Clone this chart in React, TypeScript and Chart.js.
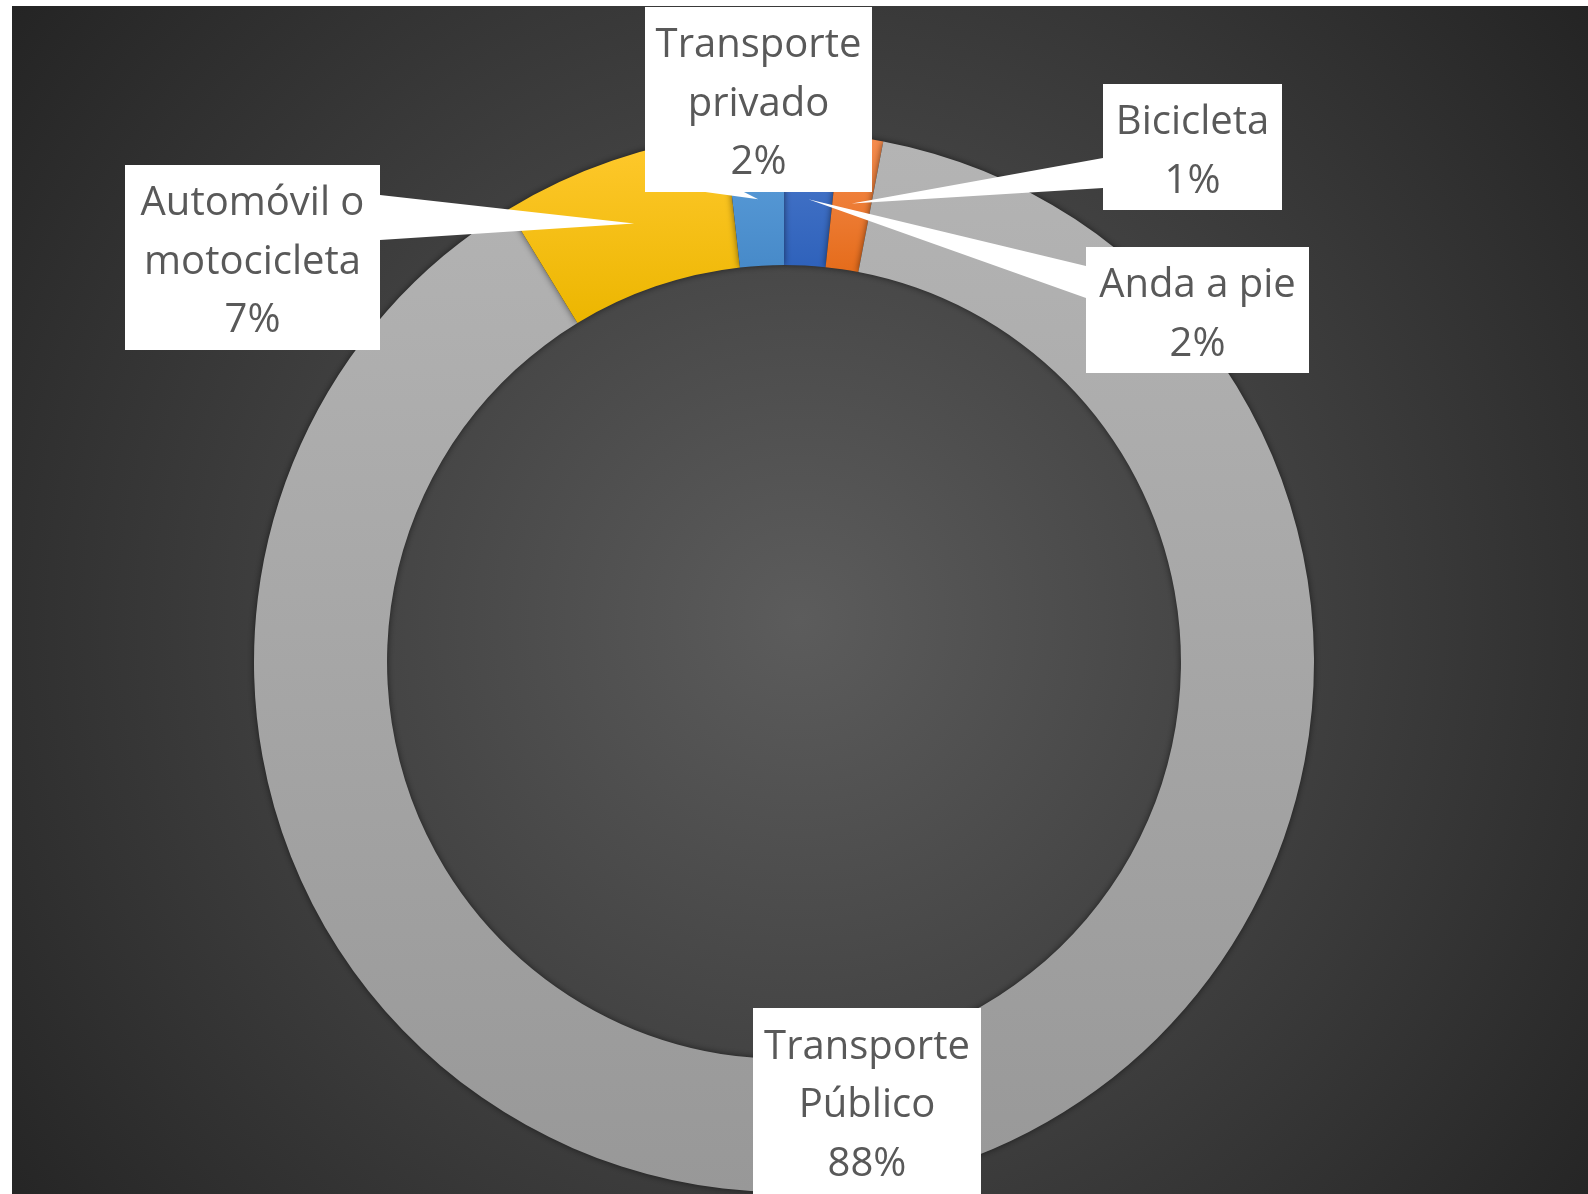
import React, { useEffect, useRef } from "react";
import { Chart, registerables } from "chart.js";

Chart.register(...registerables);

// ---- Data ----
const CATEGORIES = [
  "Anda a pie",
  "Bicicleta",
  "Transporte Público",
  "Automóvil o motocicleta",
  "Transporte privado",
];
const VALUES = [1.67, 1.33, 88.29, 6.94, 1.77];
const LABEL_LINES = [
  ["Anda a pie"],
  ["Bicicleta"],
  ["Transporte", "Público"],
  ["Automóvil o", "motocicleta"],
  ["Transporte", "privado"],
];
const COLORS_TOP = ["#4b79cb", "#f68d50", "#b4b4b4", "#ffc92e", "#5ea0dc"];
const COLORS_BOTTOM = ["#2f62bb", "#e56c1b", "#989898", "#ecb600", "#478ac9"];

// ---- Layout (positions of callout boxes) ----
const CUTOUT = 0.749;
const CALLOUTS = [
  { box: [1086, 247, 223, 126], base: [[1086, 266], [1086, 298]] },
  { box: [1103, 84, 179, 126], base: [[1103, 158], [1103, 188]] },
  { box: [753, 1008, 228, 186], base: null },
  { box: [125, 165, 255, 185], base: [[380, 195], [380, 240]] },
  { box: [645, 7, 227, 185], base: [[698, 191], [742, 191]] },
];

function arcYRange(a0: number, a1: number, rIn: number, rOut: number, cy: number) {
  const ys: number[] = [];
  for (const a of [a0, a1]) {
    ys.push(cy + rIn * Math.sin(a), cy + rOut * Math.sin(a));
  }
  const norm = (a: number) => {
    const t = Math.PI * 2;
    return ((a % t) + t) % t;
  };
  const within = (target: number) => {
    const s = norm(a0);
    const span = a1 - a0;
    const d = norm(target - s);
    return d <= span;
  };
  if (within(-Math.PI / 2)) ys.push(cy - rOut);
  if (within(Math.PI / 2)) ys.push(cy + rOut);
  return [Math.min(...ys), Math.max(...ys)];
}

export default function App() {
  const ref = useRef<HTMLCanvasElement | null>(null);

  useEffect(() => {
    document.body.style.margin = "0";
    const canvas = ref.current!;
    const total = VALUES.reduce((a, b) => a + b, 0);

    const bgPlugin = {
      id: "bg",
      beforeDraw(chart: any) {
        const ctx = chart.ctx;
        ctx.save();
        ctx.fillStyle = "#ffffff";
        ctx.fillRect(0, 0, chart.width, chart.height);
        const g = ctx.createRadialGradient(800, 620, 0, 800, 620, 1000);
        g.addColorStop(0, "#5c5c5c");
        g.addColorStop(1, "#242424");
        ctx.fillStyle = g;
        ctx.fillRect(12, 6, chart.width - 12, chart.height - 6);
        ctx.restore();
      },
    };

    const calloutPlugin = {
      id: "callouts",
      beforeDatasetsDraw(chart: any) {
        const ctx = chart.ctx;
        ctx.save();
        ctx.shadowColor = "rgba(0,0,0,0.55)";
        ctx.shadowBlur = 7;
        ctx.shadowOffsetX = 0;
        ctx.shadowOffsetY = 0;
      },
      afterDatasetsDraw(chart: any) {
        const ctx = chart.ctx;
        ctx.restore();
        const meta = chart.getDatasetMeta(0);
        ctx.save();
        ctx.fillStyle = "#ffffff";
        // wedges
        CALLOUTS.forEach((c, i) => {
          if (!c.base) return;
          const arc = meta.data[i];
          const p = arc.getCenterPoint();
          ctx.beginPath();
          ctx.moveTo(c.base[0][0], c.base[0][1]);
          ctx.lineTo(p.x, p.y);
          ctx.lineTo(c.base[1][0], c.base[1][1]);
          ctx.closePath();
          ctx.fill();
        });
        // boxes and text
        ctx.font = '40px "Open Sans", "Noto Sans", sans-serif';
        ctx.textAlign = "center";
        ctx.textBaseline = "middle";
        CALLOUTS.forEach((c, i) => {
          const [x, y, w, h] = c.box;
          ctx.fillStyle = "#ffffff";
          ctx.fillRect(x, y, w, h);
          const pct = Math.round((VALUES[i] / total) * 100) + "%";
          const lines = [...LABEL_LINES[i], pct];
          const lh = 58.5;
          const cx = x + w / 2;
          const cy = y + h / 2 + 5;
          ctx.fillStyle = "#595959";
          lines.forEach((t, k) => {
            ctx.fillText(t, cx, cy + (k - (lines.length - 1) / 2) * lh);
          });
        });
        ctx.restore();
      },
    };

    const chart = new Chart(canvas, {
      type: "doughnut",
      data: {
        labels: CATEGORIES,
        datasets: [
          {
            data: VALUES,
            borderWidth: 0,
            backgroundColor: (ctx: any) => {
              const i = ctx.dataIndex ?? 0;
              const area = ctx.chart.chartArea;
              if (!area) return COLORS_TOP[i];
              const cy0 = (area.top + area.bottom) / 2;
              const rOut = Math.min(area.right - area.left, area.bottom - area.top) / 2;
              const rIn = rOut * CUTOUT;
              let start = -Math.PI / 2;
              for (let j = 0; j < i; j++) start += (VALUES[j] / total) * Math.PI * 2;
              const end = start + (VALUES[i] / total) * Math.PI * 2;
              const [y0, y1] = arcYRange(start, end, rIn, rOut, cy0);
              const g = ctx.chart.ctx.createLinearGradient(0, y0, 0, y1);
              g.addColorStop(0, COLORS_TOP[i]);
              g.addColorStop(1, COLORS_BOTTOM[i]);
              return g;
            },
          },
        ],
      },
      options: {
        responsive: false,
        maintainAspectRatio: false,
        animation: false,
        cutout: CUTOUT * 100 + "%",
        layout: { padding: { left: 254, right: 274, top: 132, bottom: 2 } },
        plugins: {
          legend: { display: false },
          tooltip: { enabled: false },
        },
      } as any,
      plugins: [bgPlugin, calloutPlugin],
    });

    return () => chart.destroy();
  }, []);

  return (
    <div style={{ width: 1588, height: 1194, position: "relative" }}>
      <canvas ref={ref} width={1588} height={1194} style={{ display: "block" }} />
    </div>
  );
}
